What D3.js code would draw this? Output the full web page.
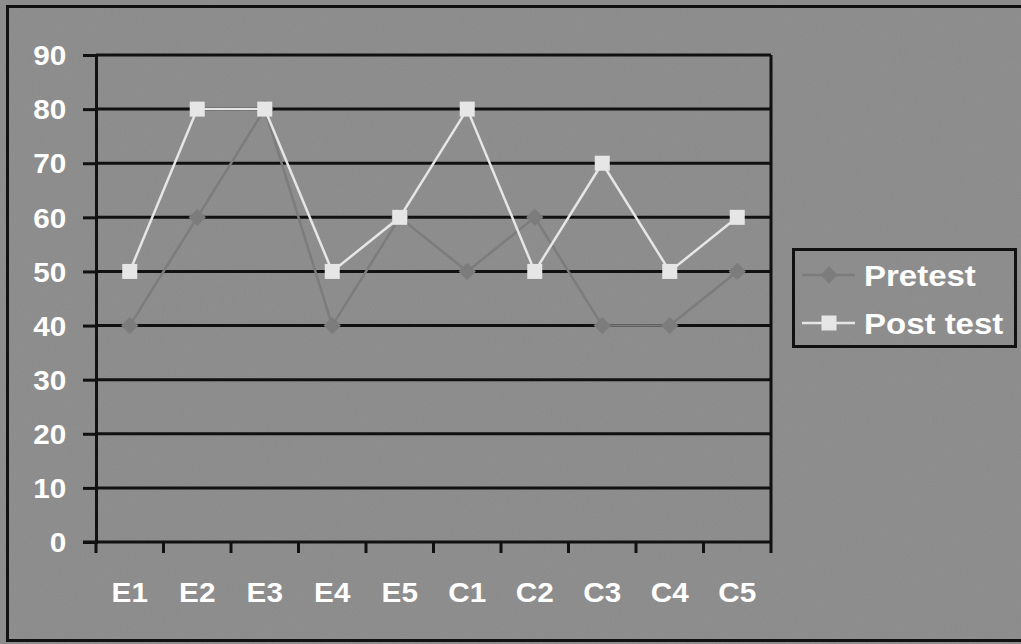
<!DOCTYPE html>
<html><head><meta charset="utf-8">
<script src="https://cdn.jsdelivr.net/npm/d3@7"></script>
<style>html,body{margin:0;padding:0;background:#8b8b8b;}svg{display:block;}</style>
</head><body>
<svg id="c" width="1021" height="644"></svg>
<script>
const categories = ["E1","E2","E3","E4","E5","C1","C2","C3","C4","C5"];
const pretest = [40,60,80,40,60,50,60,40,40,50];
const posttest = [50,80,80,50,60,80,50,70,50,60];
const yTicks = [0,10,20,30,40,50,60,70,80,90];
const seriesNames = ["Pretest","Post test"];

const svg = d3.select("#c");
const W = 1021, H = 644;
const M = {left:96, right:771, top:55, bottom:542};
const FONT = "'Liberation Sans', Arial, sans-serif";
const SX = 1.1;

const defs = svg.append("defs");
const f = defs.append("filter").attr("id","noise").attr("x",0).attr("y",0).attr("width","100%").attr("height","100%");
f.append("feTurbulence").attr("type","fractalNoise").attr("baseFrequency",0.9).attr("numOctaves",1).attr("seed",3).attr("result","t");
f.append("feColorMatrix").attr("in","t").attr("type","matrix")
  .attr("values","0 0 0 0 0.5  0 0 0 0 0.5  0 0 0 0 0.5  0.35 0 0 0 -0.1").attr("result","n");
f.append("feComposite").attr("in","n").attr("in2","SourceGraphic").attr("operator","over");

svg.append("rect").attr("x",0).attr("y",0).attr("width",W).attr("height",H).attr("fill","#8b8b8b");
svg.append("rect").attr("x",0).attr("y",0).attr("width",W).attr("height",H).attr("fill","#8b8b8b").attr("filter","url(#noise)").attr("opacity",0.5);
svg.append("rect").attr("x",7.5).attr("y",6.5).attr("width",W+10).attr("height",634).attr("fill","none").attr("stroke","#111").attr("stroke-width",3);

const x = d3.scaleBand().domain(categories).range([M.left,M.right]);
const y = d3.scaleLinear().domain([0,90]).range([M.bottom,M.top]);

svg.append("g").selectAll("line").data(yTicks.filter(d=>d>0)).join("line")
  .attr("x1",M.left).attr("x2",M.right).attr("y1",d=>y(d)).attr("y2",d=>y(d))
  .attr("stroke","#111").attr("stroke-width",3);

const ya = svg.append("g").attr("transform",`translate(${M.left},0)`)
  .call(d3.axisLeft(y).tickValues(yTicks).tickSize(13).tickPadding(14));
ya.select(".domain").attr("stroke","#111").attr("stroke-width",3);
ya.selectAll(".tick line").attr("stroke","#111").attr("stroke-width",3);
ya.selectAll("text").attr("fill","#fff").attr("font-family",FONT)
  .attr("font-weight","bold").attr("font-size",27).attr("dy","0.36em")
  .attr("transform",`scale(${SX},1)`);

svg.append("line").attr("x1",M.right).attr("x2",M.right).attr("y1",M.top).attr("y2",M.bottom+11)
  .attr("stroke","#111").attr("stroke-width",3);

const xa = svg.append("g").attr("transform",`translate(0,${M.bottom})`)
  .call(d3.axisBottom(x).tickSize(0).tickPadding(41));
xa.select(".domain").remove();
svg.append("line").attr("x1",M.left-13).attr("x2",M.right).attr("y1",M.bottom).attr("y2",M.bottom).attr("stroke","#111").attr("stroke-width",3);
svg.append("g").selectAll("line").data(categories).join("line")
  .attr("x1",d=>x(d)).attr("x2",d=>x(d)).attr("y1",M.bottom).attr("y2",M.bottom+11)
  .attr("stroke","#111").attr("stroke-width",3);
xa.selectAll("text").attr("fill","#fff").attr("font-family",FONT)
  .attr("font-weight","bold").attr("font-size",27).attr("transform",`scale(${SX},1)`);

const cx = d => x(d) + x.bandwidth()/2;
const line = d3.line().x(d=>cx(d[0])).y(d=>y(d[1]));
const preCol = "#7c7c7c", postCol = "#e6e6e6";

svg.append("path").datum(categories.map((c,i)=>[c,pretest[i]])).attr("d",line)
  .attr("fill","none").attr("stroke",preCol).attr("stroke-width",2.5);
svg.append("g").selectAll("path").data(categories.map((c,i)=>[c,pretest[i]])).join("path")
  .attr("d",d3.symbol().type(d3.symbolDiamond2).size(190))
  .attr("transform",d=>`translate(${cx(d[0])},${y(d[1])})`).attr("fill",preCol);

svg.append("path").datum(categories.map((c,i)=>[c,posttest[i]])).attr("d",line)
  .attr("fill","none").attr("stroke",postCol).attr("stroke-width",2.5);
svg.append("g").selectAll("rect").data(categories.map((c,i)=>[c,posttest[i]])).join("rect")
  .attr("x",d=>cx(d[0])-7.5).attr("y",d=>y(d[1])-7.5).attr("width",15).attr("height",15).attr("fill",postCol);

const lg = svg.append("g");
lg.append("rect").attr("x",793.5).attr("y",249.5).attr("width",222).attr("height",97)
  .attr("fill","none").attr("stroke","#111").attr("stroke-width",3);
const ly = [275, 323];
lg.append("line").attr("x1",802).attr("x2",855).attr("y1",ly[0]).attr("y2",ly[0]).attr("stroke",preCol).attr("stroke-width",2.5);
lg.append("path").attr("d",d3.symbol().type(d3.symbolDiamond2).size(190)).attr("transform",`translate(829,${ly[0]})`).attr("fill",preCol);
lg.append("line").attr("x1",802).attr("x2",855).attr("y1",ly[1]).attr("y2",ly[1]).attr("stroke",postCol).attr("stroke-width",2.5);
lg.append("rect").attr("x",821.5).attr("y",ly[1]-7.5).attr("width",15).attr("height",15).attr("fill",postCol);
lg.selectAll("text").data(seriesNames).join("text")
  .attr("transform",(d,i)=>`translate(864,${ly[i]}) scale(${SX},1)`).attr("dy","0.36em")
  .attr("fill","#fff").attr("font-family",FONT)
  .attr("font-weight","bold").attr("font-size",30).text(d=>d);
</script>
</body></html>
